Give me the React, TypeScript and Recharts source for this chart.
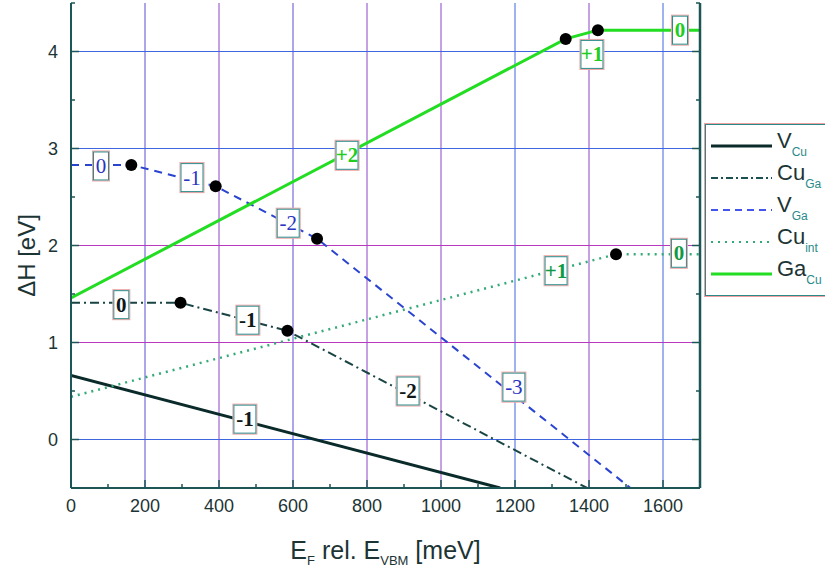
import React from 'react';
import { ComposedChart, Line, Scatter, XAxis, YAxis, ReferenceLine, Legend, Label } from 'recharts';

// ---------- data ----------
const xTicks = [0, 100, 200, 300, 400, 500, 600, 700, 800, 900, 1000, 1100, 1200, 1300, 1400, 1500, 1600, 1700];
const yTicks = [-0.5, 0, 0.5, 1, 1.5, 2, 2.5, 3, 3.5, 4, 4.5];
const vGridX = [200, 400, 600, 800, 1000, 1200, 1400, 1600];
const vGridColors = ['#5a4ed4', '#8a44c8', '#5a4ed4', '#8a44c8', '#8a44c8', '#3e66e0', '#8a44c8', '#3e66e0'];
const hGridY = [0, 1, 2, 3, 4];
const hGridColors = ['#3e66e0', '#b838c0', '#b838c0', '#3e66e0', '#3e66e0'];

const vCu = [{ x: 0, y: 0.66 }, { x: 1160, y: -0.5 }];
const cuGa = [{ x: 0, y: 1.41 }, { x: 296, y: 1.41 }, { x: 585, y: 1.12 }, { x: 1395, y: -0.5 }];
const vGa = [{ x: 0, y: 2.83 }, { x: 163, y: 2.83 }, { x: 391, y: 2.61 }, { x: 665, y: 2.07 }, { x: 1512, y: -0.5 }];
const cuInt = [{ x: 0, y: 0.44 }, { x: 1473, y: 1.91 }, { x: 1700, y: 1.91 }];
const gaCu = [{ x: 0, y: 1.46 }, { x: 1337, y: 4.13 }, { x: 1424, y: 4.22 }, { x: 1700, y: 4.22 }];

const transitionDots = [
  { x: 163, y: 2.83 }, { x: 391, y: 2.61 }, { x: 665, y: 2.07 },
  { x: 296, y: 1.41 }, { x: 585, y: 1.12 },
  { x: 1473, y: 1.91 },
  { x: 1337, y: 4.13 }, { x: 1424, y: 4.22 },
];

const chargeLabels = [
  { x: 81, y: 2.82, text: '0', color: '#2a34c0', bold: false },
  { x: 327, y: 2.70, text: '-1', color: '#2a34c0', bold: false },
  { x: 587, y: 2.23, text: '-2', color: '#2a34c0', bold: false },
  { x: 1197, y: 0.54, text: '-3', color: '#2a34c0', bold: false },
  { x: 136, y: 1.39, text: '0', color: '#101818', bold: true },
  { x: 478, y: 1.23, text: '-1', color: '#101818', bold: true },
  { x: 911, y: 0.50, text: '-2', color: '#101818', bold: true },
  { x: 470, y: 0.21, text: '-1', color: '#101818', bold: true },
  { x: 746, y: 2.93, text: '+2', color: '#22cc22', bold: true },
  { x: 1408, y: 3.97, text: '+1', color: '#22cc22', bold: true },
  { x: 1646, y: 4.22, text: '0', color: '#22cc22', bold: true },
  { x: 1311, y: 1.74, text: '+1', color: '#119944', bold: true },
  { x: 1643, y: 1.92, text: '0', color: '#119944', bold: true },
];

const legendItems = [
  { main: 'V', sub: 'Cu', color: '#0b2b2b', dash: '', width: 3 },
  { main: 'Cu', sub: 'Ga', color: '#1a5050', dash: '7 3 2 3', width: 2 },
  { main: 'V', sub: 'Ga', color: '#4455ee', dash: '7 5', width: 2 },
  { main: 'Cu', sub: 'int', color: '#33aa77', dash: '2 5', width: 2 },
  { main: 'Ga', sub: 'Cu', color: '#22dd22', dash: '', width: 3 },
];

// ---------- styling ----------
const FRAME = '#1d5656';
const TXT = '#1c3434';
const SANS = '"Liberation Sans", Arial, sans-serif';
const SERIF = '"Liberation Serif", "Times New Roman", serif';
const TM = 8; // tick margin

const BottomTick = (p: any) => {
  const v = p.payload.value;
  const major = v % 200 === 0;
  const y0 = p.y - TM;
  return (
    <g>
      <line x1={p.x} x2={p.x} y1={y0} y2={y0 - (major ? 8 : 4)} stroke={FRAME} strokeWidth={1.5} />
      {major && v <= 1600 && (
        <text x={p.x} y={y0 + 24} textAnchor="middle" fontSize={18} fontFamily={SANS} fill={TXT}>{v}</text>
      )}
    </g>
  );
};
const TopTick = (p: any) => {
  const v = p.payload.value;
  const major = v % 200 === 0;
  const y0 = p.y + TM;
  return <line x1={p.x} x2={p.x} y1={y0} y2={y0 + (major ? 8 : 4)} stroke={FRAME} strokeWidth={1.5} />;
};
const LeftTick = (p: any) => {
  const v = p.payload.value;
  const major = Number.isInteger(v);
  const x0 = p.x + TM;
  return (
    <g>
      <line x1={x0} x2={x0 + (major ? 8 : 4)} y1={p.y} y2={p.y} stroke={FRAME} strokeWidth={1.5} />
      {major && v >= 0 && v <= 4 && (
        <text x={x0 - 13} y={p.y + 6} textAnchor="end" fontSize={18} fontFamily={SANS} fill={TXT}>{v}</text>
      )}
    </g>
  );
};
const RightTick = (p: any) => {
  const v = p.payload.value;
  const major = Number.isInteger(v);
  const x0 = p.x - TM;
  return <line x1={x0} x2={x0 - (major ? 8 : 4)} y1={p.y} y2={p.y} stroke={FRAME} strokeWidth={1.5} />;
};

const XTitle = (p: any) => {
  const vb = p.viewBox;
  return (
    <text x={vb.x + vb.width / 2} y={vb.y + 71} textAnchor="middle" fontSize={25} fontFamily={SANS} fill={TXT}>
      E<tspan fontSize={13} dy={6}>F</tspan><tspan dy={-6}> rel. E</tspan><tspan fontSize={13} dy={6}>VBM</tspan><tspan dy={-6}> [meV]</tspan>
    </text>
  );
};
const YTitle = (p: any) => {
  const vb = p.viewBox;
  const cx = 26;
  const cy = vb.y + vb.height / 2 + 10;
  return (
    <text x={cx} y={cy} transform={`rotate(-90 ${cx} ${cy})`} textAnchor="middle" dominantBaseline="central" fontSize={24} fontFamily={SANS} fill={TXT}>
      ΔH [eV]
    </text>
  );
};

const DotShape = (p: any) => <circle cx={p.cx} cy={p.cy} r={6} fill="#000" />;

const BoxShape = (p: any) => {
  const d = p.payload;
  const w = d.text.length > 1 ? 24 : 17;
  const h = 30;
  return (
    <g>
      <rect x={p.cx - w / 2} y={p.cy - h / 2} width={w} height={h} fill="#fff" stroke="#f0a0a0" strokeWidth={1} />
      <rect x={p.cx - w / 2 + 1} y={p.cy - h / 2 + 1} width={w - 2} height={h - 2} fill="none" stroke="#2a8a8a" strokeWidth={1} />
      <text x={p.cx} y={p.cy + 7} textAnchor="middle" fontSize={21} fontWeight={d.bold ? 'bold' : 'normal'} fontFamily={SERIF} fill={d.color}>{d.text}</text>
    </g>
  );
};

const LegendBox = () => (
  <div style={{ width: 140, height: 172, border: '1px solid #2a8a8a', outline: '1px solid #f0a0a0', background: '#fff', boxSizing: 'border-box', paddingTop: 5 }}>
    {legendItems.map((it, i) => (
      <div key={i} style={{ height: 32, display: 'flex', alignItems: 'center' }}>
        <svg width={66} height={10} style={{ marginLeft: 5 }}>
          <line x1={0} x2={61} y1={5} y2={5} stroke={it.color} strokeWidth={it.width} strokeDasharray={it.dash || undefined} />
        </svg>
        <span style={{ fontFamily: SANS, fontSize: 22, color: TXT, lineHeight: '22px' }}>
          {it.main}
          <sub style={{ fontSize: 12, color: '#2a8a8a', verticalAlign: -8 }}>{it.sub}</sub>
        </span>
      </div>
    ))}
  </div>
);

export default function App() {
  return (
    <div style={{ position: 'absolute', left: 0, top: 0, width: 825, height: 567, overflow: 'hidden', background: '#fff' }}>
      <ComposedChart width={825} height={567} margin={{ top: 3, right: 0, bottom: 0, left: 0 }}>
        <XAxis xAxisId="b" dataKey="x" type="number" domain={[0, 1700]} ticks={xTicks} orientation="bottom" height={79}
          axisLine={{ stroke: FRAME, strokeWidth: 2 }} tickLine={false} tickSize={0} tickMargin={TM} tick={<BottomTick />} allowDataOverflow interval={0}>
          <Label content={<XTitle />} />
        </XAxis>
        <XAxis xAxisId="t" dataKey="x" type="number" domain={[0, 1700]} ticks={xTicks} orientation="top" height={0}
          axisLine={{ stroke: FRAME, strokeWidth: 2 }} tickLine={false} tickSize={0} tickMargin={TM} tick={<TopTick />} allowDataOverflow interval={0} />
        <YAxis yAxisId="l" dataKey="y" type="number" domain={[-0.5, 4.5]} ticks={yTicks} orientation="left" width={71}
          axisLine={{ stroke: FRAME, strokeWidth: 2 }} tickLine={false} tickSize={0} tickMargin={TM} tick={<LeftTick />} allowDataOverflow interval={0}>
          <Label content={<YTitle />} />
        </YAxis>
        <YAxis yAxisId="r" dataKey="y" type="number" domain={[-0.5, 4.5]} ticks={yTicks} orientation="right" width={125}
          axisLine={{ stroke: FRAME, strokeWidth: 2.5 }} tickLine={false} tickSize={0} tickMargin={TM} tick={<RightTick />} allowDataOverflow interval={0} />

        {vGridX.map((v, i) => (
          <ReferenceLine key={'vx' + v} xAxisId="b" yAxisId="l" x={v} stroke={vGridColors[i]} strokeWidth={1} />
        ))}
        {hGridY.map((v, i) => (
          <ReferenceLine key={'hy' + v} xAxisId="b" yAxisId="l" y={v} stroke={hGridColors[i]} strokeWidth={1} />
        ))}

        <Line xAxisId="b" yAxisId="l" data={vCu} dataKey="y" name="VCu" type="linear" stroke="#0b2b2b" strokeWidth={3} dot={false} isAnimationActive={false} legendType="none" />
        <Line xAxisId="b" yAxisId="l" data={cuGa} dataKey="y" name="CuGa" type="linear" stroke="#1a4444" strokeWidth={2} strokeDasharray="9 4 2 4" dot={false} isAnimationActive={false} legendType="none" />
        <Line xAxisId="b" yAxisId="l" data={vGa} dataKey="y" name="VGa" type="linear" stroke="#2a44d0" strokeWidth={2} strokeDasharray="8 6" dot={false} isAnimationActive={false} legendType="none" />
        <Line xAxisId="b" yAxisId="l" data={cuInt} dataKey="y" name="Cuint" type="linear" stroke="#33aa77" strokeWidth={2.5} strokeDasharray="2 5" dot={false} isAnimationActive={false} legendType="none" />
        <Line xAxisId="b" yAxisId="l" data={gaCu} dataKey="y" name="GaCu" type="linear" stroke="#22dd22" strokeWidth={3} dot={false} isAnimationActive={false} legendType="none" />

        <Scatter xAxisId="b" yAxisId="l" data={transitionDots} dataKey="y" shape={<DotShape />} isAnimationActive={false} legendType="none" />
        <Scatter xAxisId="b" yAxisId="l" data={chargeLabels} dataKey="y" shape={<BoxShape />} isAnimationActive={false} legendType="none" />

        <Legend layout="vertical" align="center" verticalAlign="middle" content={<LegendBox />}
          wrapperStyle={{ position: 'absolute', left: 705, top: 124, width: 140, height: 172 }} />
      </ComposedChart>
    </div>
  );
}
